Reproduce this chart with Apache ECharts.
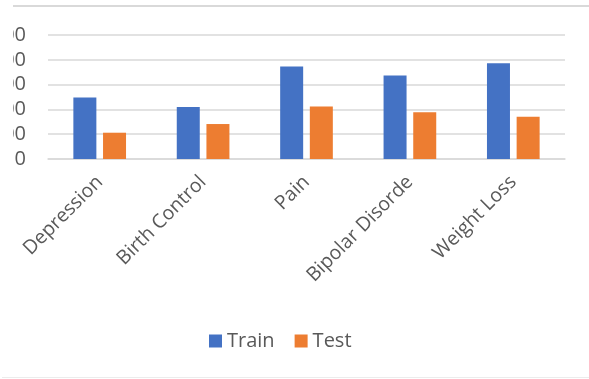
<!DOCTYPE html>
<html>
<head>
<meta charset="utf-8">
<script src="https://cdn.jsdelivr.net/npm/echarts@6/dist/echarts.min.js"></script>
<style>
  html, body { margin: 0; padding: 0; background: #fff; }
  #wrap { position: relative; width: 589px; height: 379px; overflow: hidden; }
  #chart-container { position: absolute; left: 13px; top: 0; width: 576px; height: 379px; }
  #bottom-line { position: absolute; left: 2px; top: 377px; width: 587px; height: 1px; background: #ececec; }
</style>
</head>
<body>
<div id="wrap">
  <div id="chart-container"></div>
  <div id="bottom-line"></div>
</div>
<script>
const categories = ["Depression", "Birth Control", "Pain", "Bipolar Disorde", "Weight Loss"];
const trainValues = [248, 210, 373, 337, 386];
const testValues = [106, 141, 212, 189, 170];
const yTicks = [0, 100, 200, 300, 400, 500];

const chartContainer = document.getElementById("chart-container");
const myChart = echarts.init(chartContainer);

const textColor = "#595959";
const font = "'Open Sans', sans-serif";

const option = {
  animation: false,
  textStyle: { fontFamily: font },
  graphic: [
    {
      type: "rect",
      shape: { x: -1, y: 5, width: 580, height: 2 },
      style: { fill: "#d9d9d9" },
      silent: true,
    },
  ],
  grid: {
    left: 35,
    right: 24,
    top: 35,
    bottom: 220,
    containLabel: false,
    outerBoundsMode: "none",
  },
  legend: {
    left: 191,
    top: 326,
    itemWidth: 13,
    itemHeight: 13,
    itemGap: 20,
    icon: "rect",
    textStyle: { fontSize: 20, color: textColor, fontFamily: font },
    data: ["Train", "Test"],
  },
  xAxis: {
    type: "category",
    data: categories,
    axisLine: { show: true, lineStyle: { color: "#d9d9d9", width: 1.5 } },
    axisTick: { show: false },
    axisLabel: {
      rotate: 45,
      interval: 0,
      margin: 20,
      fontSize: 19.5,
      color: textColor,
      fontFamily: font,
    },
  },
  yAxis: {
    type: "value",
    min: yTicks[0],
    max: yTicks[yTicks.length - 1],
    interval: 100,
    axisLine: { show: false },
    axisTick: { show: false },
    splitLine: { lineStyle: { color: "#d9d9d9", width: 1.5 } },
    axisLabel: {
      margin: 22,
      fontSize: 20,
      color: textColor,
      fontFamily: font,
    },
  },
  series: [
    {
      name: "Train",
      type: "bar",
      data: trainValues,
      barWidth: 23,
      barGap: "29%",
      itemStyle: { color: "#4472C4" },
    },
    {
      name: "Test",
      type: "bar",
      data: testValues,
      barWidth: 23,
      itemStyle: { color: "#ED7D31" },
    },
  ],
};

myChart.setOption(option);
</script>
</body>
</html>
